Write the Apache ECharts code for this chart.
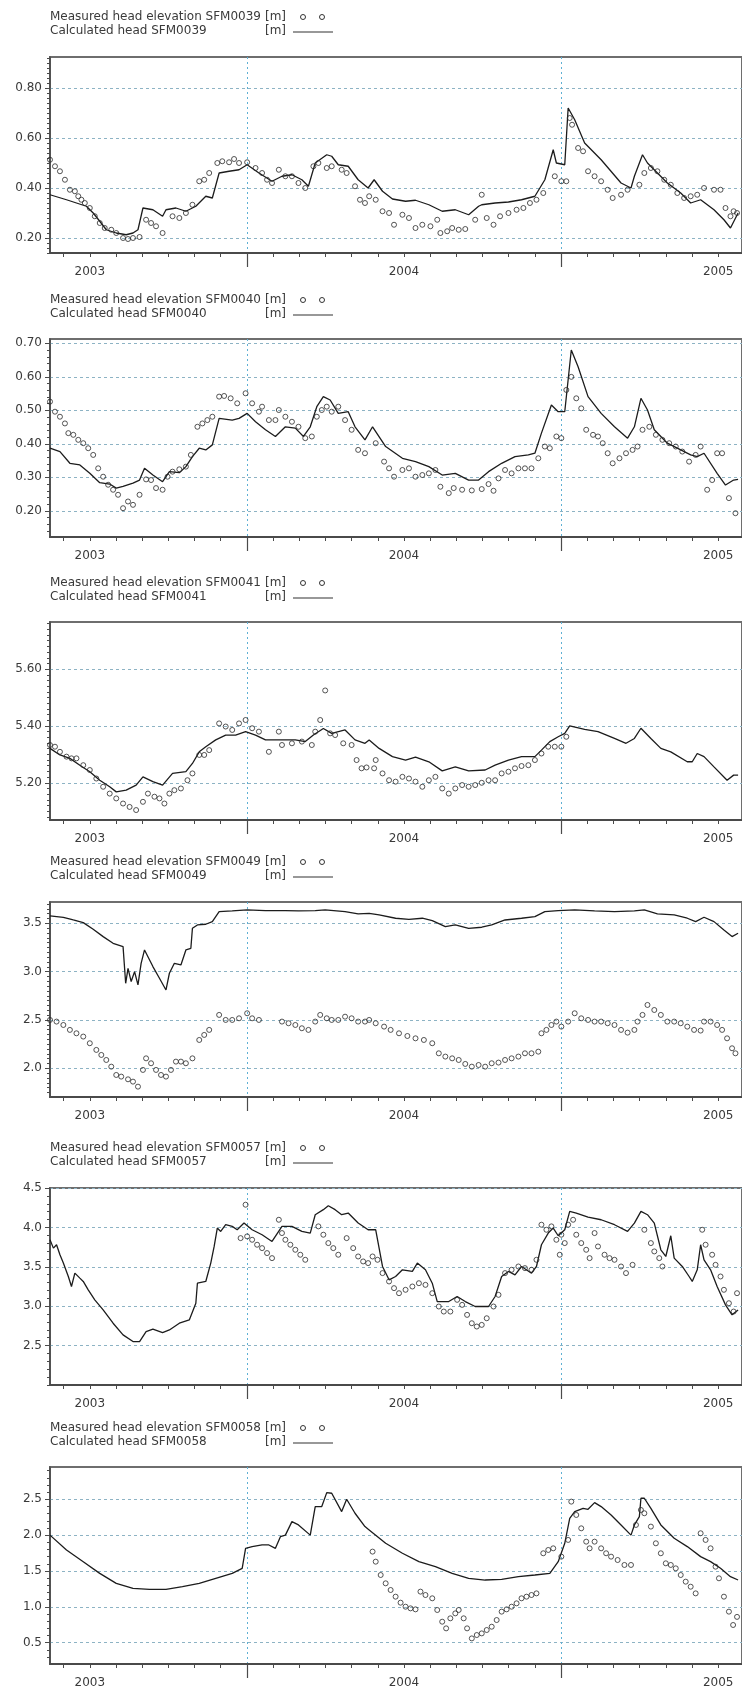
<!DOCTYPE html>
<html>
<head>
<meta charset="utf-8">
<script src="https://cdn.jsdelivr.net/npm/echarts@6/dist/echarts.min.js"></script>
<style>
html,body{margin:0;padding:0;background:#fff}
#chart{width:742px;height:1693px}
</style>
</head>
<body>
<div id="chart"></div>
<script>
// Time axis unit: months since 1 Jan 2003 (12 = 1 Jan 2004, 24 = 1 Jan 2005)
const wells = ['SFM0039', 'SFM0040', 'SFM0041', 'SFM0049', 'SFM0057', 'SFM0058'];
const yearLabels = ['2003', '2004', '2005'];
const yearLabelAt = [6, 18, 30];      // mid-year positions of the year labels
const yearStartAt = [12, 24];         // 1 January boundaries
const monthTickAt = [5,6,7,8,9,10,11,12,13,14,15,16,17,18,19,20,21,22,23,24,25,26,27,28,29,30];

// y-axis ticks per well
const yTicks39 = [0.2, 0.4, 0.6, 0.8];
const yTicks40 = [0.2, 0.3, 0.4, 0.5, 0.6, 0.7];
const yTicks41 = [5.2, 5.4, 5.6];
const yTicks49 = [2.0, 2.5, 3.0, 3.5];
const yTicks57 = [2.5, 3.0, 3.5, 4.0, 4.5];
const yTicks58 = [0.5, 1.0, 1.5, 2.0, 2.5];

// Calculated head [month, m]
const calc39 = [[4.48,0.373],[5.11,0.353],[5.49,0.34],[5.87,0.327],[6.13,0.30],[6.38,0.267],[6.63,0.233],[7.01,0.22],[7.39,0.213],[7.65,0.22],[7.84,0.233],[8.03,0.32],[8.41,0.313],[8.78,0.287],[8.91,0.313],[9.29,0.32],[9.67,0.307],[10.05,0.327],[10.43,0.367],[10.68,0.36],[10.94,0.46],[11.32,0.467],[11.70,0.473],[12.01,0.493],[12.46,0.46],[12.96,0.427],[13.34,0.447],[13.72,0.453],[14.10,0.433],[14.35,0.407],[14.61,0.50],[15.05,0.533],[15.24,0.527],[15.49,0.493],[15.87,0.487],[16.25,0.433],[16.63,0.40],[16.86,0.433],[17.18,0.387],[17.56,0.356],[18.06,0.347],[18.44,0.351],[18.95,0.333],[19.46,0.307],[19.96,0.313],[20.47,0.293],[20.85,0.327],[20.97,0.333],[21.48,0.34],[21.99,0.344],[22.49,0.353],[23.00,0.367],[23.38,0.433],[23.70,0.553],[23.82,0.50],[24.14,0.493],[24.27,0.72],[24.52,0.673],[24.90,0.58],[25.53,0.513],[26.29,0.42],[26.67,0.40],[26.80,0.447],[27.11,0.533],[27.30,0.50],[27.68,0.46],[28.06,0.42],[28.57,0.38],[28.95,0.34],[29.33,0.353],[29.84,0.313],[30.22,0.273],[30.47,0.24],[30.76,0.30]];
const calc40 = [[4.48,0.387],[4.86,0.377],[5.24,0.342],[5.62,0.337],[6.00,0.312],[6.38,0.284],[6.76,0.28],[7.01,0.268],[7.27,0.273],[7.65,0.283],[7.90,0.292],[8.09,0.327],[8.41,0.307],[8.78,0.287],[9.04,0.317],[9.42,0.314],[9.67,0.332],[9.92,0.362],[10.18,0.387],[10.43,0.382],[10.68,0.397],[10.94,0.476],[11.44,0.471],[11.70,0.476],[12.01,0.491],[12.33,0.466],[12.71,0.442],[13.09,0.422],[13.47,0.451],[13.85,0.447],[14.16,0.422],[14.42,0.451],[14.67,0.511],[14.92,0.541],[15.18,0.531],[15.49,0.491],[15.87,0.496],[16.13,0.451],[16.51,0.412],[16.80,0.451],[17.30,0.392],[17.94,0.357],[18.44,0.347],[18.95,0.332],[19.46,0.307],[19.96,0.312],[20.47,0.292],[20.85,0.292],[21.23,0.317],[21.73,0.342],[22.24,0.362],[22.75,0.367],[23.00,0.372],[23.25,0.432],[23.63,0.516],[23.89,0.496],[24.14,0.496],[24.39,0.68],[24.65,0.63],[25.03,0.541],[25.53,0.491],[26.04,0.451],[26.54,0.417],[26.80,0.451],[27.05,0.536],[27.30,0.501],[27.56,0.442],[28.06,0.402],[28.57,0.382],[28.95,0.367],[29.20,0.362],[29.46,0.372],[29.96,0.312],[30.28,0.277],[30.59,0.292],[30.76,0.294]];
const calc41 = [[4.48,5.321],[4.86,5.298],[5.24,5.286],[5.62,5.262],[6.00,5.239],[6.38,5.209],[6.76,5.186],[7.01,5.168],[7.39,5.174],[7.77,5.192],[8.03,5.221],[8.41,5.204],[8.78,5.192],[9.16,5.233],[9.67,5.239],[9.92,5.268],[10.18,5.309],[10.43,5.327],[10.81,5.351],[11.19,5.368],[11.57,5.368],[11.95,5.38],[12.33,5.368],[12.71,5.351],[13.09,5.351],[13.47,5.351],[13.85,5.351],[14.23,5.345],[14.54,5.368],[14.92,5.391],[15.24,5.374],[15.75,5.386],[16.13,5.351],[16.51,5.339],[16.67,5.351],[17.05,5.321],[17.56,5.292],[18.06,5.28],[18.44,5.29],[18.95,5.274],[19.46,5.242],[19.96,5.256],[20.47,5.242],[21.10,5.245],[21.48,5.262],[21.99,5.28],[22.49,5.292],[23.00,5.292],[23.25,5.315],[23.57,5.345],[23.89,5.362],[24.14,5.374],[24.33,5.40],[24.90,5.388],[25.41,5.38],[26.04,5.356],[26.48,5.339],[26.80,5.356],[27.05,5.392],[27.43,5.356],[27.81,5.321],[28.19,5.309],[28.82,5.274],[29.01,5.274],[29.20,5.303],[29.46,5.292],[29.84,5.256],[30.34,5.209],[30.59,5.227],[30.76,5.227]];
const calc49 = [[4.48,3.576],[4.99,3.562],[5.37,3.534],[5.75,3.507],[6.13,3.438],[6.51,3.362],[6.89,3.293],[7.27,3.259],[7.37,2.879],[7.46,3.034],[7.58,2.897],[7.71,3.0],[7.84,2.862],[7.96,3.086],[8.09,3.224],[8.41,3.052],[8.66,2.931],[8.91,2.81],[9.04,2.983],[9.23,3.086],[9.48,3.069],[9.67,3.224],[9.86,3.241],[9.92,3.448],[10.11,3.483],[10.43,3.49],[10.68,3.517],[10.94,3.621],[11.44,3.628],[12.01,3.638],[12.71,3.631],[13.47,3.631],[13.97,3.628],[14.61,3.631],[14.99,3.638],[15.75,3.621],[16.25,3.597],[16.67,3.603],[17.05,3.586],[17.68,3.552],[18.19,3.541],[18.70,3.552],[19.08,3.528],[19.58,3.466],[19.96,3.483],[20.47,3.448],[20.97,3.459],[21.35,3.483],[21.86,3.534],[22.49,3.552],[23.00,3.569],[23.38,3.621],[23.89,3.631],[24.52,3.638],[25.28,3.628],[26.04,3.621],[26.80,3.628],[27.18,3.638],[27.68,3.597],[28.32,3.586],[28.82,3.552],[29.14,3.517],[29.46,3.562],[29.84,3.517],[30.22,3.431],[30.53,3.362],[30.76,3.397]];
const calc57 = [[4.48,3.843],[4.61,3.737],[4.73,3.78],[4.86,3.653],[4.99,3.547],[5.18,3.377],[5.30,3.25],[5.43,3.42],[5.62,3.356],[5.75,3.314],[5.94,3.208],[6.19,3.081],[6.51,2.953],[6.89,2.784],[7.27,2.636],[7.65,2.551],[7.90,2.551],[8.15,2.678],[8.41,2.708],[8.78,2.665],[9.04,2.699],[9.42,2.784],[9.80,2.826],[10.05,3.038],[10.11,3.292],[10.43,3.314],[10.62,3.547],[10.75,3.758],[10.87,3.992],[11.00,3.949],[11.19,4.034],[11.44,4.013],[11.63,3.97],[11.89,4.055],[12.20,3.97],[12.58,3.907],[12.96,3.822],[13.34,4.013],[13.72,4.013],[14.10,3.949],[14.42,3.928],[14.61,4.161],[14.92,4.225],[15.11,4.275],[15.37,4.225],[15.62,4.161],[15.87,4.182],[16.25,4.055],[16.63,3.97],[16.92,3.97],[17.18,3.504],[17.43,3.335],[17.68,3.377],[17.94,3.462],[18.32,3.441],[18.51,3.547],[18.82,3.462],[19.08,3.292],[19.27,3.059],[19.71,3.059],[20.03,3.123],[20.34,3.059],[20.72,2.996],[21.23,2.996],[21.48,3.123],[21.73,3.377],[21.99,3.441],[22.24,3.398],[22.49,3.504],[22.87,3.419],[23.06,3.504],[23.25,3.78],[23.51,3.928],[23.70,3.992],[23.89,3.894],[24.14,3.97],[24.33,4.203],[24.58,4.182],[25.03,4.131],[25.53,4.097],[26.04,4.034],[26.54,3.949],[26.80,4.055],[27.05,4.203],[27.30,4.161],[27.56,4.055],[27.81,3.716],[28.00,3.631],[28.19,3.894],[28.32,3.61],[28.63,3.504],[28.89,3.377],[29.01,3.314],[29.20,3.462],[29.33,3.78],[29.46,3.589],[29.71,3.462],[29.96,3.25],[30.28,3.017],[30.53,2.89],[30.76,2.953]];
const calc58 = [[4.48,2.0],[5.11,1.793],[5.75,1.63],[6.38,1.467],[7.01,1.328],[7.65,1.258],[8.28,1.244],[8.91,1.244],[9.54,1.281],[10.18,1.328],[10.81,1.398],[11.44,1.467],[11.82,1.537],[11.95,1.816],[12.20,1.84],[12.58,1.863],[12.84,1.863],[13.09,1.816],[13.28,1.979],[13.47,2.0],[13.72,2.188],[13.97,2.142],[14.42,2.0],[14.61,2.398],[14.86,2.398],[15.05,2.593],[15.24,2.584],[15.62,2.328],[15.81,2.5],[16.13,2.305],[16.51,2.119],[16.67,2.072],[17.30,1.886],[17.94,1.747],[18.57,1.63],[19.20,1.56],[19.84,1.467],[20.47,1.398],[21.10,1.374],[21.73,1.384],[22.37,1.421],[23.00,1.444],[23.57,1.467],[23.89,1.63],[24.14,1.886],[24.33,2.235],[24.52,2.328],[24.84,2.374],[25.03,2.36],[25.28,2.453],[25.53,2.398],[25.91,2.281],[26.29,2.142],[26.67,2.0],[26.80,2.142],[26.99,2.258],[27.05,2.514],[27.18,2.514],[27.43,2.374],[27.81,2.142],[28.32,1.956],[28.82,1.84],[29.33,1.70],[29.71,1.63],[30.09,1.537],[30.47,1.421],[30.76,1.374]];

// Measured head elevation [month, m]
const meas39 = [[4.48,0.513],[4.67,0.487],[4.86,0.467],[5.05,0.433],[5.24,0.393],[5.43,0.387],[5.56,0.367],[5.68,0.353],[5.81,0.34],[6.00,0.32],[6.19,0.287],[6.38,0.26],[6.57,0.24],[6.82,0.233],[7.01,0.22],[7.27,0.20],[7.46,0.196],[7.65,0.20],[7.90,0.204],[8.15,0.273],[8.34,0.26],[8.53,0.247],[8.78,0.22],[9.16,0.287],[9.42,0.28],[9.67,0.30],[9.92,0.333],[10.18,0.427],[10.37,0.433],[10.56,0.46],[10.87,0.50],[11.06,0.507],[11.32,0.503],[11.51,0.516],[11.70,0.50],[12.01,0.503],[12.33,0.48],[12.58,0.46],[12.77,0.433],[12.96,0.42],[13.22,0.473],[13.47,0.447],[13.72,0.447],[13.97,0.42],[14.23,0.40],[14.54,0.487],[14.73,0.50],[15.05,0.48],[15.24,0.487],[15.62,0.473],[15.81,0.46],[16.13,0.407],[16.32,0.353],[16.51,0.34],[16.67,0.367],[16.92,0.353],[17.18,0.307],[17.43,0.30],[17.62,0.253],[17.94,0.293],[18.19,0.28],[18.44,0.24],[18.70,0.253],[19.01,0.247],[19.27,0.273],[19.39,0.22],[19.65,0.227],[19.84,0.24],[20.09,0.233],[20.34,0.236],[20.72,0.273],[20.97,0.373],[21.16,0.28],[21.42,0.253],[21.67,0.287],[21.99,0.30],[22.30,0.313],[22.56,0.32],[22.81,0.34],[23.06,0.353],[23.32,0.38],[23.76,0.447],[24.01,0.427],[24.20,0.427],[24.33,0.68],[24.42,0.653],[24.65,0.56],[24.84,0.547],[25.03,0.467],[25.28,0.447],[25.53,0.427],[25.78,0.393],[25.97,0.36],[26.29,0.373],[26.54,0.393],[26.99,0.413],[27.18,0.46],[27.43,0.48],[27.68,0.467],[27.94,0.433],[28.19,0.413],[28.44,0.38],[28.70,0.36],[28.95,0.367],[29.20,0.373],[29.46,0.40],[29.84,0.393],[30.09,0.393],[30.28,0.32],[30.47,0.287],[30.59,0.307],[30.72,0.30]];
const meas40 = [[4.48,0.526],[4.67,0.496],[4.86,0.481],[5.05,0.461],[5.18,0.432],[5.37,0.427],[5.56,0.412],[5.75,0.402],[5.94,0.387],[6.13,0.367],[6.32,0.327],[6.51,0.302],[6.70,0.278],[6.89,0.263],[7.08,0.248],[7.27,0.208],[7.46,0.228],[7.65,0.218],[7.90,0.248],[8.15,0.294],[8.34,0.292],[8.53,0.268],[8.78,0.263],[8.97,0.302],[9.16,0.317],[9.42,0.324],[9.67,0.332],[9.86,0.367],[10.11,0.451],[10.30,0.461],[10.49,0.471],[10.68,0.481],[10.94,0.541],[11.13,0.543],[11.38,0.536],[11.63,0.521],[11.95,0.551],[12.20,0.521],[12.46,0.496],[12.58,0.511],[12.84,0.471],[13.09,0.471],[13.22,0.501],[13.47,0.481],[13.72,0.466],[13.97,0.451],[14.23,0.417],[14.48,0.422],[14.67,0.481],[14.86,0.501],[15.05,0.511],[15.24,0.496],[15.49,0.511],[15.75,0.471],[16.00,0.442],[16.25,0.382],[16.51,0.372],[16.92,0.402],[17.24,0.347],[17.43,0.327],[17.62,0.302],[17.94,0.322],[18.19,0.327],[18.44,0.302],[18.70,0.307],[18.95,0.312],[19.20,0.322],[19.39,0.272],[19.71,0.253],[19.90,0.268],[20.22,0.263],[20.59,0.261],[20.97,0.265],[21.23,0.28],[21.42,0.26],[21.61,0.297],[21.86,0.322],[22.11,0.312],[22.37,0.327],[22.62,0.327],[22.87,0.327],[23.13,0.357],[23.38,0.392],[23.57,0.387],[23.82,0.422],[24.01,0.417],[24.20,0.561],[24.39,0.60],[24.58,0.536],[24.77,0.506],[24.96,0.442],[25.22,0.427],[25.41,0.422],[25.59,0.402],[25.78,0.372],[25.97,0.342],[26.23,0.357],[26.48,0.372],[26.73,0.382],[26.92,0.392],[27.11,0.442],[27.37,0.451],[27.62,0.427],[27.87,0.412],[28.13,0.402],[28.38,0.392],[28.63,0.377],[28.89,0.347],[29.14,0.367],[29.33,0.392],[29.58,0.263],[29.77,0.292],[29.96,0.372],[30.15,0.372],[30.41,0.238],[30.66,0.193]];
const meas41 = [[4.48,5.333],[4.67,5.327],[4.86,5.309],[5.11,5.292],[5.30,5.286],[5.49,5.286],[5.75,5.262],[6.00,5.245],[6.25,5.215],[6.51,5.186],[6.76,5.162],[7.01,5.145],[7.27,5.127],[7.52,5.115],[7.77,5.104],[8.03,5.133],[8.22,5.162],[8.47,5.151],[8.66,5.145],[8.85,5.127],[9.04,5.162],[9.23,5.174],[9.48,5.18],[9.73,5.209],[9.92,5.233],[10.18,5.298],[10.37,5.298],[10.56,5.315],[10.94,5.409],[11.19,5.398],[11.44,5.386],[11.70,5.409],[11.95,5.421],[12.20,5.392],[12.46,5.38],[12.84,5.309],[13.22,5.38],[13.34,5.333],[13.72,5.339],[14.10,5.345],[14.48,5.333],[14.61,5.38],[14.80,5.421],[14.99,5.525],[15.18,5.374],[15.37,5.368],[15.68,5.339],[16.00,5.333],[16.19,5.28],[16.38,5.251],[16.57,5.254],[16.86,5.251],[16.92,5.28],[17.18,5.233],[17.43,5.209],[17.68,5.204],[17.94,5.221],[18.19,5.215],[18.44,5.204],[18.70,5.186],[18.95,5.209],[19.20,5.221],[19.46,5.18],[19.71,5.162],[19.96,5.18],[20.22,5.192],[20.47,5.186],[20.72,5.192],[20.97,5.20],[21.23,5.209],[21.48,5.209],[21.73,5.233],[21.99,5.239],[22.24,5.251],[22.49,5.259],[22.75,5.262],[23.00,5.28],[23.25,5.303],[23.51,5.327],[23.76,5.327],[24.01,5.327],[24.20,5.362]];
const meas49 = [[4.48,2.5],[4.73,2.483],[4.99,2.448],[5.24,2.397],[5.49,2.362],[5.75,2.328],[6.00,2.259],[6.25,2.19],[6.44,2.138],[6.63,2.086],[6.82,2.017],[7.01,1.931],[7.20,1.914],[7.46,1.886],[7.65,1.862],[7.84,1.81],[8.03,1.983],[8.15,2.103],[8.34,2.052],[8.53,1.983],[8.72,1.931],[8.91,1.914],[9.10,1.983],[9.29,2.069],[9.48,2.069],[9.67,2.052],[9.92,2.103],[10.18,2.293],[10.37,2.345],[10.56,2.397],[10.94,2.552],[11.19,2.5],[11.44,2.5],[11.70,2.517],[12.01,2.569],[12.20,2.517],[12.46,2.5],[13.34,2.483],[13.59,2.466],[13.85,2.448],[14.10,2.414],[14.35,2.397],[14.61,2.483],[14.80,2.552],[15.05,2.517],[15.24,2.5],[15.49,2.5],[15.75,2.534],[16.00,2.517],[16.25,2.483],[16.51,2.483],[16.67,2.5],[16.92,2.466],[17.24,2.431],[17.49,2.397],[17.81,2.362],[18.13,2.334],[18.44,2.31],[18.76,2.293],[19.08,2.259],[19.33,2.155],[19.58,2.121],[19.84,2.103],[20.09,2.086],[20.34,2.045],[20.59,2.017],[20.85,2.034],[21.10,2.017],[21.35,2.052],[21.61,2.059],[21.86,2.086],[22.11,2.103],[22.37,2.121],[22.62,2.155],[22.87,2.155],[23.13,2.172],[23.25,2.362],[23.44,2.397],[23.63,2.448],[23.82,2.483],[24.01,2.431],[24.27,2.483],[24.52,2.569],[24.77,2.517],[25.03,2.5],[25.28,2.483],[25.53,2.483],[25.78,2.466],[26.04,2.448],[26.29,2.397],[26.54,2.369],[26.80,2.397],[26.92,2.483],[27.11,2.552],[27.30,2.655],[27.56,2.603],[27.81,2.552],[28.06,2.483],[28.32,2.483],[28.57,2.466],[28.82,2.431],[29.08,2.397],[29.33,2.39],[29.46,2.483],[29.71,2.483],[29.96,2.448],[30.15,2.397],[30.34,2.31],[30.53,2.207],[30.66,2.155]];
const meas57 = [[11.76,3.864],[11.95,4.288],[12.01,3.886],[12.20,3.843],[12.39,3.78],[12.58,3.737],[12.77,3.674],[12.96,3.61],[13.22,4.097],[13.34,3.928],[13.47,3.843],[13.66,3.78],[13.85,3.716],[14.04,3.653],[14.23,3.589],[14.73,4.013],[14.92,3.907],[15.11,3.801],[15.30,3.737],[15.49,3.653],[15.81,3.864],[16.06,3.737],[16.25,3.631],[16.44,3.568],[16.63,3.547],[16.80,3.631],[16.99,3.589],[17.18,3.42],[17.43,3.314],[17.62,3.229],[17.81,3.165],[18.06,3.208],[18.32,3.25],[18.57,3.292],[18.82,3.271],[19.08,3.165],[19.33,2.996],[19.52,2.932],[19.77,2.932],[20.03,3.081],[20.22,3.017],[20.41,2.89],[20.59,2.784],[20.78,2.742],[20.97,2.763],[21.16,2.847],[21.42,2.996],[21.61,3.144],[21.86,3.42],[22.11,3.462],[22.37,3.504],[22.62,3.483],[22.87,3.462],[23.06,3.589],[23.25,4.034],[23.44,3.97],[23.63,4.013],[23.82,3.843],[23.95,3.653],[24.01,3.907],[24.14,3.801],[24.27,4.034],[24.46,4.097],[24.58,3.907],[24.77,3.801],[24.96,3.716],[25.09,3.61],[25.28,3.928],[25.41,3.758],[25.66,3.653],[25.85,3.61],[26.04,3.589],[26.29,3.504],[26.48,3.42],[26.73,3.525],[27.18,3.97],[27.43,3.801],[27.56,3.695],[27.75,3.61],[27.87,3.504],[29.39,3.97],[29.52,3.78],[29.77,3.653],[29.90,3.525],[30.09,3.377],[30.22,3.208],[30.41,3.038],[30.59,2.932],[30.72,3.165]];
const meas58 = [[16.80,1.77],[16.92,1.63],[17.11,1.444],[17.30,1.328],[17.49,1.235],[17.68,1.142],[17.87,1.058],[18.06,1.002],[18.25,0.979],[18.44,0.965],[18.63,1.212],[18.82,1.165],[19.08,1.119],[19.27,0.956],[19.46,0.793],[19.61,0.70],[19.77,0.84],[19.96,0.909],[20.09,0.956],[20.28,0.84],[20.41,0.70],[20.59,0.56],[20.78,0.607],[20.97,0.63],[21.16,0.677],[21.35,0.723],[21.54,0.816],[21.73,0.933],[21.92,0.965],[22.11,1.002],[22.30,1.049],[22.49,1.119],[22.68,1.142],[22.87,1.165],[23.06,1.188],[23.32,1.747],[23.51,1.793],[23.70,1.816],[24.01,1.70],[24.27,1.933],[24.39,2.467],[24.58,2.281],[24.77,2.095],[24.96,1.909],[25.09,1.816],[25.28,1.909],[25.53,1.816],[25.72,1.747],[25.91,1.70],[26.16,1.653],[26.42,1.584],[26.67,1.584],[26.86,2.142],[27.05,2.351],[27.18,2.305],[27.43,2.119],[27.62,1.886],[27.81,1.747],[28.00,1.607],[28.19,1.584],[28.38,1.537],[28.57,1.444],[28.76,1.351],[28.95,1.281],[29.14,1.188],[29.33,2.026],[29.52,1.933],[29.71,1.816],[29.90,1.56],[30.03,1.398],[30.22,1.142],[30.41,0.933],[30.57,0.747],[30.72,0.86]];

// ---- layout and styling ----
const calcSeries = [calc39, calc40, calc41, calc49, calc57, calc58];
const measSeries = [meas39, meas40, meas41, meas49, meas57, meas58];
const yTickSets = [yTicks39, yTicks40, yTicks41, yTicks49, yTicks57, yTicks58];
const yRange = [[0.14, 0.924], [0.122, 0.713], [5.069, 5.766], [1.703, 3.72], [2.0, 4.5], [0.203, 2.95]];
const yDecimals = [2, 2, 2, 1, 1, 1];
const yMinorStep = [0.02, 0.02, 0.02, 0.05, 0.1, 0.1];
const gridTop = [57, 339, 622, 902, 1188, 1467];
const gridHeight = [196, 198, 198, 195, 197, 197];
const keyRow1 = [17, 300, 583, 862, 1148, 1428];   // key line centres
const keyRow2 = [31, 314, 597, 876, 1162, 1442];
const xRange = [4.48, 30.91];

const FONT = 'DejaVu Sans';
const TEXT = '#3a3a3a';
const AXIS = '#4a4a4a';
const HGRID = '#8db3c4';
const VGRID = '#5fb0d4';

function minorTicks(lo, hi, step) {
  const out = [];
  for (let k = Math.ceil(lo / step - 1e-9); k * step <= hi + 1e-9; k++) out.push(+(k * step).toFixed(4));
  return out;
}

function keyText(text, x, y) {
  return {
    type: 'text', x: x, y: y, silent: true,
    style: { text: text, fill: TEXT, font: '12px "' + FONT + '"', textVerticalAlign: 'middle', textAlign: 'left' }
  };
}

const grids = [], xAxes = [], yAxes = [], series = [], graphics = [];

wells.forEach((well, i) => {
  const measName = 'Measured head elevation ' + well;
  const calcName = 'Calculated head ' + well;

  grids.push({
    left: 50, right: -4, top: gridTop[i], height: gridHeight[i],
    show: true, borderColor: '#6e6e6e', borderWidth: 2, backgroundColor: '#fff'
  });

  // month ticks + year labels
  xAxes.push({
    type: 'value', gridIndex: i, position: 'bottom', min: xRange[0], max: xRange[1],
    axisLine: { show: true, onZero: false, lineStyle: { color: AXIS, width: 2 } },
    axisTick: { show: true, customValues: monthTickAt, length: 4, lineStyle: { color: AXIS, width: 1 } },
    axisLabel: {
      show: true, customValues: yearLabelAt, margin: 13,
      fontFamily: FONT, fontSize: 12, color: TEXT,
      formatter: v => yearLabels[yearLabelAt.indexOf(Math.round(v))] || ''
    },
    splitLine: { show: false }
  });
  // year boundaries: long tick and dotted vertical rule
  xAxes.push({
    type: 'value', gridIndex: i, position: 'bottom', offset: 0, min: xRange[0], max: xRange[1],
    axisLine: { show: false, onZero: false },
    axisTick: { show: true, customValues: yearStartAt, length: 14, lineStyle: { color: AXIS, width: 1.2 } },
    axisLabel: { show: false },
    splitLine: { show: true, lineStyle: { color: VGRID, width: 1, type: [2, 3] } }
  });

  const ticks = yTickSets[i];
  yAxes.push({
    type: 'value', gridIndex: i, position: 'left', min: yRange[i][0], max: yRange[i][1],
    axisLine: { show: true, onZero: false, lineStyle: { color: AXIS, width: 1.5 } },
    axisTick: { show: true, customValues: ticks, length: 5, lineStyle: { color: AXIS } },
    axisLabel: {
      show: true, customValues: ticks, margin: 8,
      fontFamily: FONT, fontSize: 12, color: TEXT,
      formatter: v => v.toFixed(yDecimals[i])
    },
    splitLine: { show: true, lineStyle: { color: HGRID, width: 1, type: [3, 3] } }
  });
  yAxes.push({
    type: 'value', gridIndex: i, position: 'left', offset: 0, min: yRange[i][0], max: yRange[i][1],
    axisLine: { show: false, onZero: false },
    axisTick: { show: true, customValues: minorTicks(yRange[i][0], yRange[i][1], yMinorStep[i]), length: 3, lineStyle: { color: AXIS } },
    axisLabel: { show: false },
    splitLine: { show: false }
  });

  series.push({
    name: calcName, type: 'line', xAxisIndex: 2 * i, yAxisIndex: 2 * i,
    data: calcSeries[i], symbol: 'none', showSymbol: false,
    lineStyle: { color: '#1c1c1c', width: 1.3 }, itemStyle: { color: '#1c1c1c' },
    z: 3, silent: true
  });
  series.push({
    name: measName, type: 'scatter', xAxisIndex: 2 * i, yAxisIndex: 2 * i,
    data: measSeries[i], symbol: 'circle', symbolSize: 5,
    itemStyle: { color: 'rgba(255,255,255,0)', borderColor: '#2a2a2a', borderWidth: 1 },
    z: 4, silent: true
  });

  // series key: name, unit, marker sample
  const y1 = keyRow1[i], y2 = keyRow2[i];
  graphics.push(keyText(measName, 50, y1), keyText('[m]', 265, y1));
  graphics.push(keyText(calcName, 50, y2), keyText('[m]', 265, y2));
  [303, 322].forEach(cx => graphics.push({
    type: 'circle', silent: true, shape: { cx: cx, cy: y1, r: 2.5 },
    style: { fill: 'none', stroke: '#333', lineWidth: 1 }
  }));
  graphics.push({
    type: 'line', silent: true, shape: { x1: 293, y1: y2 + 1, x2: 333, y2: y2 + 1 },
    style: { stroke: '#333', lineWidth: 1.2 }
  });
});

const chart = echarts.init(document.getElementById('chart'), null, { renderer: 'canvas' });
chart.setOption({
  backgroundColor: '#fff',
  animation: false,
  grid: grids,
  xAxis: xAxes,
  yAxis: yAxes,
  graphic: graphics,
  series: series
});
</script>
</body>
</html>
